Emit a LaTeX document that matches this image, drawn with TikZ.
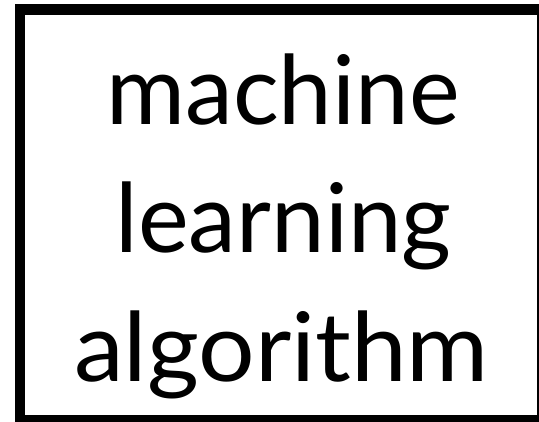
\documentclass[tikz,border=0pt]{standalone}
\usepackage{fontspec}
\setmainfont{Lato}
\begin{document}
\begin{tikzpicture}[x=1pt,y=1pt,
  bar/.style={fill=black,draw=none},
  word/.style={anchor=base,inner sep=0pt,font=\fontsize{96}{96}\selectfont}]
  \useasboundingbox (0,0) rectangle (539,422);
  % heavy frame: left, top and bottom bars, thin sliver on the right edge
  \fill[bar] (15,0) rectangle (25,417.7);
  \fill[bar] (15,407) rectangle (539,417.7);
  \fill[bar] (15,0) rectangle (539,7);
  \fill[bar] (537.4,0) rectangle (539,417.7);
  \node[word] (w1) at (283,297) {machine};
  \node[word] (w2) at (283.5,169) {learning};
  \node[word] (w3) at (281.5,40) {\scalebox{1.04}[1]{algorithm}};
\end{tikzpicture}
\end{document}
